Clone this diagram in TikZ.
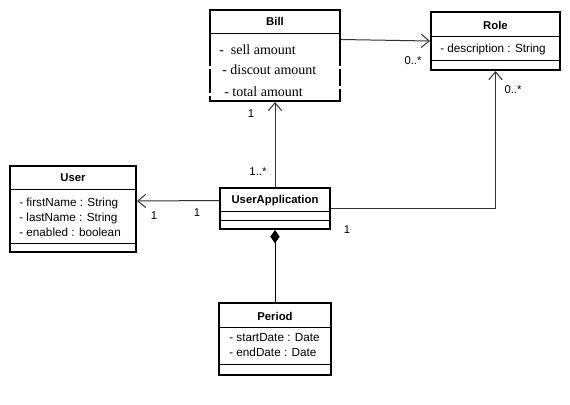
\documentclass[tikz,border=0pt]{standalone}
\usepackage{fontspec}
\setmainfont{Liberation Sans}
\newfontfamily\billfont{Liberation Serif}
\usetikzlibrary{arrows.meta,fit}

\tikzset{
  classbox/.style={draw, line width=1.5pt, inner sep=0pt},
  classname/.style={font=\fontsize{8.5}{9}\selectfont\bfseries, inner sep=0pt},
  attrs/.style={font=\fontsize{8.8}{11.25}\selectfont, align=left, anchor=west, inner sep=0pt},
  billattr/.style={font=\billfont\fontsize{10.5}{11}\selectfont, anchor=west, inner sep=0pt},
  mult/.style={font=\fontsize{8.5}{9}\selectfont, inner sep=0pt},
  sepline/.style={line width=0.75pt},
  assoc/.style={draw=black!80, line width=0.75pt, -{Straight Barb[length=6pt,width=10pt]}},
  compo/.style={draw=black, line width=0.75pt, -{Diamond[length=10pt,width=7pt]}}
}

\begin{document}
\begin{tikzpicture}[x=0.75pt,y=-0.75pt]
                \useasboundingbox[fill=white] (0,0) rectangle (570,404);

                % class boxes
                \node[classbox, fit={(210,10) (340,101)}] (bill) {};
                \node[classbox, fit={(431,12) (560,70)}] (role) {};
                \node[classbox, fit={(10,166) (136,252)}] (user) {};
                \node[classbox, fit={(220,188) (330,229)}] (userapp) {};
                \node[classbox, fit={(219,303) (331,375)}] (period) {};

                % Bill
                \node[classname] (billname) at (275,21) {Bill};
                \draw[sepline] (210,33) -- (340,33);
                \node[billattr] (sell) at (219,50) {-\ \ sell amount};
                \node[billattr] (discout) at (222,70) {- discout amount};
                \node[billattr] (total) at (224,92) {- total amount};
                \fill[white] (208,66) rectangle (213,69);
                \fill[white] (208,93) rectangle (213,96);
                \fill[white] (337,66) rectangle (342,69);
                \fill[white] (337,86) rectangle (342,89);

                % Role
                \node[classname] (rolename) at (495.5,25) {Role};
                \draw[sepline] (431,36) -- (560,36);
                \node[attrs] (roleattr) at (440,49) {- description : String};
                \draw[sepline] (431,60) -- (560,60);

                % User
                \node[classname] (username) at (73,178) {User};
                \draw[sepline] (10,189) -- (136,189);
                \node[attrs] (userattr) at (19,217) {- firstName : String\\- lastName : String\\- enabled : boolean};
                \draw[sepline] (10,243) -- (136,243);

                % UserApplication
                \node[classname] (appname) at (275,201) {UserApplication};
                \draw[sepline] (220,211) -- (330,211);
                \draw[sepline] (220,220) -- (330,220);

                % Period
                \node[classname] (periodname) at (275,316) {Period};
                \draw[sepline] (219,327) -- (331,327);
                \node[attrs] (periodattr) at (229,345.5) {- startDate : Date\\- endDate : Date};
                \draw[sepline] (219,364) -- (331,364);

                % associations
                \draw[assoc] ([yshift=12pt]bill.east) -- (role.west);
                \draw[assoc] (userapp.north) -- (bill.south);
                \draw[assoc] (userapp.east) -| (role.south);
                \draw[assoc] ([yshift=6pt]userapp.west) -- ([yshift=6pt]user.east);
                \draw[compo] (period.north) -- (userapp.south);

                % multiplicities
                \node[mult] (m1) at (413,61) {0..*};
                \node[mult] (m2) at (513,90) {0..*};
                \node[mult] (m3) at (251,114) {1};
                \node[mult] (m4) at (258,172) {1..*};
                \node[mult] (m5) at (154,216) {1};
                \node[mult] (m6) at (197,213) {1};
                \node[mult] (m7) at (347,230) {1};
            \end{tikzpicture}
\end{document}
